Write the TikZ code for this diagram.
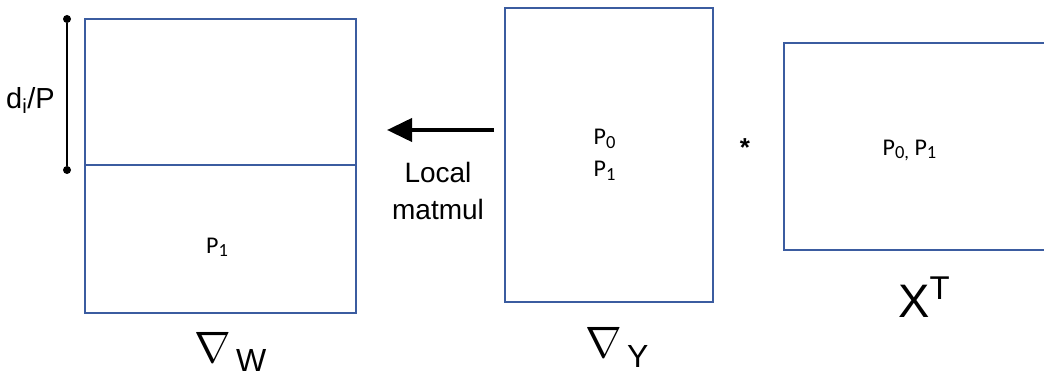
\documentclass[tikz,border=0pt]{standalone}
\usepackage{fix-cm}
\usepackage{fontspec}
\setmainfont{Liberation Sans}
\newfontfamily\calfont{Carlito}
\usepackage{tikz}
\usetikzlibrary{positioning, arrows.meta}
\definecolor{boxblue}{HTML}{3B5CA0}
% part index: P with a large, lowered subscript
\newcommand{\pidx}[1]{P\raisebox{-3.5pt}{\fontsize{18.5}{18.5}\selectfont #1}}

\begin{document}
\begin{tikzpicture}[
    x=1pt, y=-1pt,
    mat/.style={rectangle, draw=boxblue, line width=1.5pt, inner sep=0pt},
    plab/.style={font=\calfont\fontsize{24}{24}\selectfont, inner sep=0pt, anchor=base west},
    dot/.style={circle, fill=black, inner sep=0pt, minimum size=8pt},
    lbl/.style={font=\fontsize{28}{37}\selectfont, align=center},
    nab/.style={font=\fontsize{44}{44}\selectfont, inner sep=0pt, anchor=base},
    sub/.style={font=\fontsize{32}{32}\selectfont, inner sep=0pt, anchor=base west},
    mmarrow/.style={-{Triangle[length=25pt, width=23pt]}, line width=4pt}
]
    \clip (0,0) rectangle (1044,377);

    % gradient of W, split in two row blocks
    \node[mat, minimum width=271pt, minimum height=294pt] (gw) at (220.5,166) {};
    \coordinate (split) at (0,165);
    \draw[boxblue, line width=1.8pt] (gw.west |- split) -- (gw.east |- split);
    \node[plab] (p1w) at (206,253.3) {\pidx{1}};
    \node[nab] (nw) at (213,362) {$\nabla$};
    \node[sub] (w) at (236,371) {W};

    % block size
    \node[dot] (top) at (67,19) {};
    \node[dot] (bot) at (67,170) {};
    \draw[line width=1.2pt] (top) -- (bot);
    \node[font=\fontsize{29}{29}\selectfont, inner sep=0pt, anchor=base west] (di) at (6,108.3) {d\textsubscript{i}/P};

    % gradient of Y
    \node[mat, minimum width=208pt, minimum height=294pt] (gy) at (609,155) {};
    \node[plab] (p0y) at (593.5,145) {\pidx{0}};
    \node[plab] (p1y) at (593.5,176.7) {\pidx{1}};
    \node[nab] (ny) at (604,357) {$\nabla$};
    \node[sub] (y) at (627,367) {Y};

    % local matmul
    \coordinate (astart) at (494,130);
    \coordinate (aend) at (387,130);
    \draw[mmarrow] (astart) -- (aend);
    \node[lbl] (mm) at (438,191) {Local\\matmul};

    % times X^T
    \node[font=\bfseries\fontsize{26}{26}\selectfont] (times) at (745,148) {*};
    \node[mat, minimum width=266pt, minimum height=207pt] (xt) at (917,146.5) {};
    \node[plab] (p01x) at (882.5,155) {\pidx{0,} \pidx{1}};
    \node[font=\fontsize{47}{47}\selectfont, inner sep=0pt, anchor=base west] (xtl) at (898,317) {X\textsuperscript{T}};
\end{tikzpicture}
\end{document}
